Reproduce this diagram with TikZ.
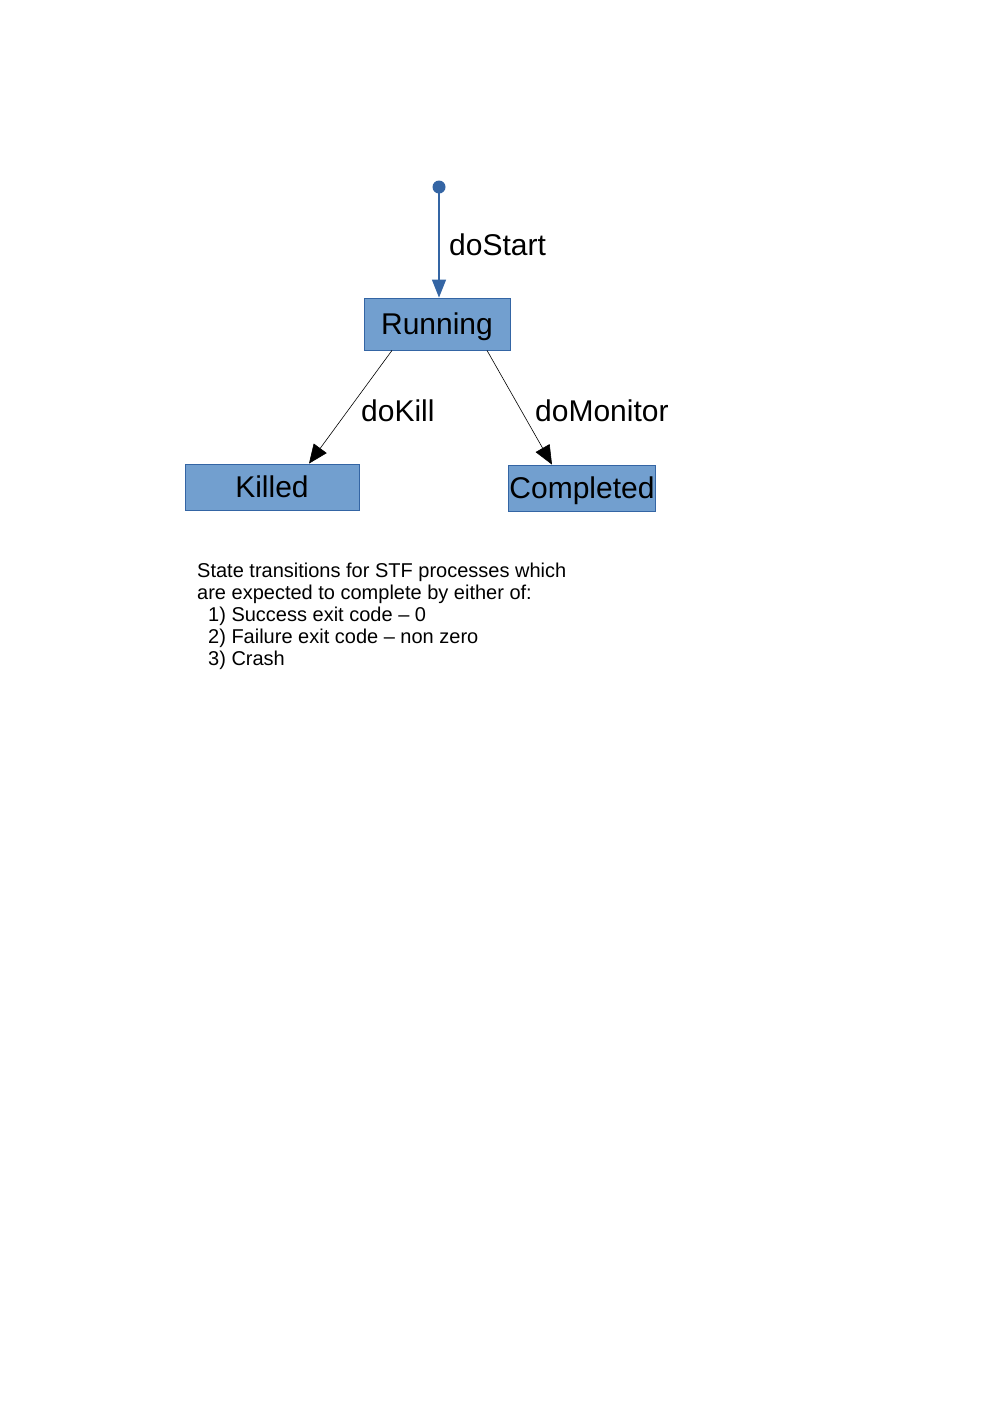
\documentclass[tikz,border=0pt]{standalone}
\usepackage{fontspec}
\setmainfont{Liberation Sans}
\usetikzlibrary{arrows.meta}
\definecolor{statefill}{HTML}{729FCF}
\definecolor{stateline}{HTML}{3465A4}
\tikzset{
  state/.style={draw=stateline, fill=statefill, line width=0.8pt, inner sep=1pt,
    minimum height=46pt, text height=21.5pt, text depth=0pt,
    font=\fontsize{30}{34}\selectfont},
  trans/.style={line width=0.6pt, -{Triangle[length=19pt,width=16pt]}},
  translabel/.style={anchor=base west, inner sep=0pt, font=\fontsize{30}{34}\selectfont}
}
\begin{document}
\begin{tikzpicture}[x=1pt,y=-1pt]
      \useasboundingbox (0,0) rectangle (992,1403);
      \draw
        (439,187) node[circle, fill=stateline, inner sep=0pt, minimum size=13pt] (init){}
        (437,324) node[state, minimum width=146pt, minimum height=52pt] (running){Running}
        (272,487) node[state, minimum width=174pt] (killed){Killed}
        (582,488) node[state, minimum width=146pt] (completed){Completed};
      \begin{scope}[trans]
        \draw[stateline, line width=1.3pt, -{Triangle[length=18pt,width=14pt]}]
          (init.center) to (init.center |- running.north);
        \draw ([xshift=-45pt]running.south) to ([xshift=37pt]killed.north);
        \draw ([xshift=50pt]running.south) to ([xshift=-30pt]completed.north);
      \end{scope}
      \node[translabel] (lstart) at (449,255) {doStart};
      \node[translabel] (lkill) at (361,421) {doKill};
      \node[translabel] (lmonitor) at (535,421) {doMonitor};
      \node[anchor=base west, inner sep=0pt, align=left,
        font=\fontsize{20}{22}\selectfont] (note) at (197,665)
        {State transitions for STF processes which\\
         are expected to complete by either of:\\
         \hspace*{11pt}1) Success exit code -- 0\\
         \hspace*{11pt}2) Failure exit code -- non zero\\
         \hspace*{11pt}3) Crash};
    \end{tikzpicture}
\end{document}
